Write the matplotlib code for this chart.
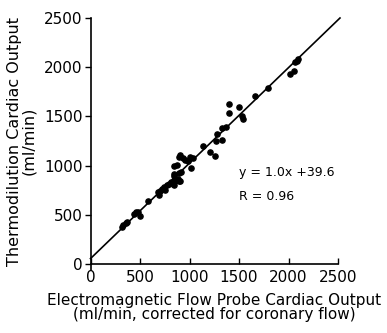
import matplotlib.pyplot as plt

# Electromagnetic flow probe (x) vs thermodilution (y), ml/min
em_flow = [315, 332, 355, 372, 440, 464, 484, 497, 585, 677, 687, 704, 721, 738,
           751, 788, 812, 839, 856, 880, 846, 897, 846, 870, 897, 914, 907, 897,
           904, 931, 958, 981, 1005, 1039, 1015, 1140, 1208, 1259, 1269, 1276,
           1330, 1330, 1370, 1404, 1404, 1496, 1533, 1540, 1658, 1793, 2020,
           2057, 2064, 2081, 2098, 839, 768]
thermo = [373, 397, 414, 424, 509, 526, 532, 492, 644, 729, 702, 746, 763, 780,
          756, 814, 831, 807, 848, 865, 892, 841, 1000, 1007, 922, 932, 848, 1085,
          1112, 1078, 1058, 1044, 1092, 1078, 977, 1200, 1136, 1095, 1254, 1322,
          1261, 1380, 1390, 1627, 1536, 1593, 1509, 1475, 1712, 1787, 1932,
          1966, 2051, 2068, 2085, 915, 807]

# regression line as drawn
line_x = [0, 2520]
line_y = [55, 2500]

ticks = [0, 500, 1000, 1500, 2000, 2500]

fig = plt.figure(figsize=(3.87, 3.33), dpi=100)
ax = fig.add_axes([90.5 / 387, 1 - 264 / 333, 247.5 / 387, 246 / 333])

ax.plot(line_x, line_y, color='black', lw=1.2, clip_on=False)
ax.scatter(em_flow, thermo, s=14, color='black', zorder=3, clip_on=False)

ax.set_xlim(0, 2500)
ax.set_ylim(0, 2500)
ax.set_xticks(ticks)
ax.set_yticks(ticks)
ax.set_xticklabels([str(t) for t in ticks])
ax.set_yticklabels([str(t) for t in ticks])

for s in ['top', 'right']:
    ax.spines[s].set_visible(False)
ax.spines['left'].set_bounds(-60, 2500)
ax.spines['left'].set_linewidth(1.2)
ax.spines['bottom'].set_linewidth(1.2)

ax.tick_params(axis='x', direction='in', length=4, width=1, labelsize=11, pad=4)
ax.tick_params(axis='y', direction='out', length=4, width=1, labelsize=11, pad=1.5)

ax.text(1495, 931, 'y = 1.0x +39.6', fontsize=9, va='center', ha='left')
ax.text(1495, 687, 'R = 0.96', fontsize=9, va='center', ha='left')

ax.set_xlabel('Electromagnetic Flow Probe Cardiac Output\n(ml/min, corrected for coronary flow)',
              fontsize=11, labelpad=6, linespacing=0.95)
ax.set_ylabel('Thermodilution Cardiac Output\n(ml/min)', fontsize=11.5, labelpad=6,
              linespacing=0.95)

fig.savefig('out.png', dpi=100)
